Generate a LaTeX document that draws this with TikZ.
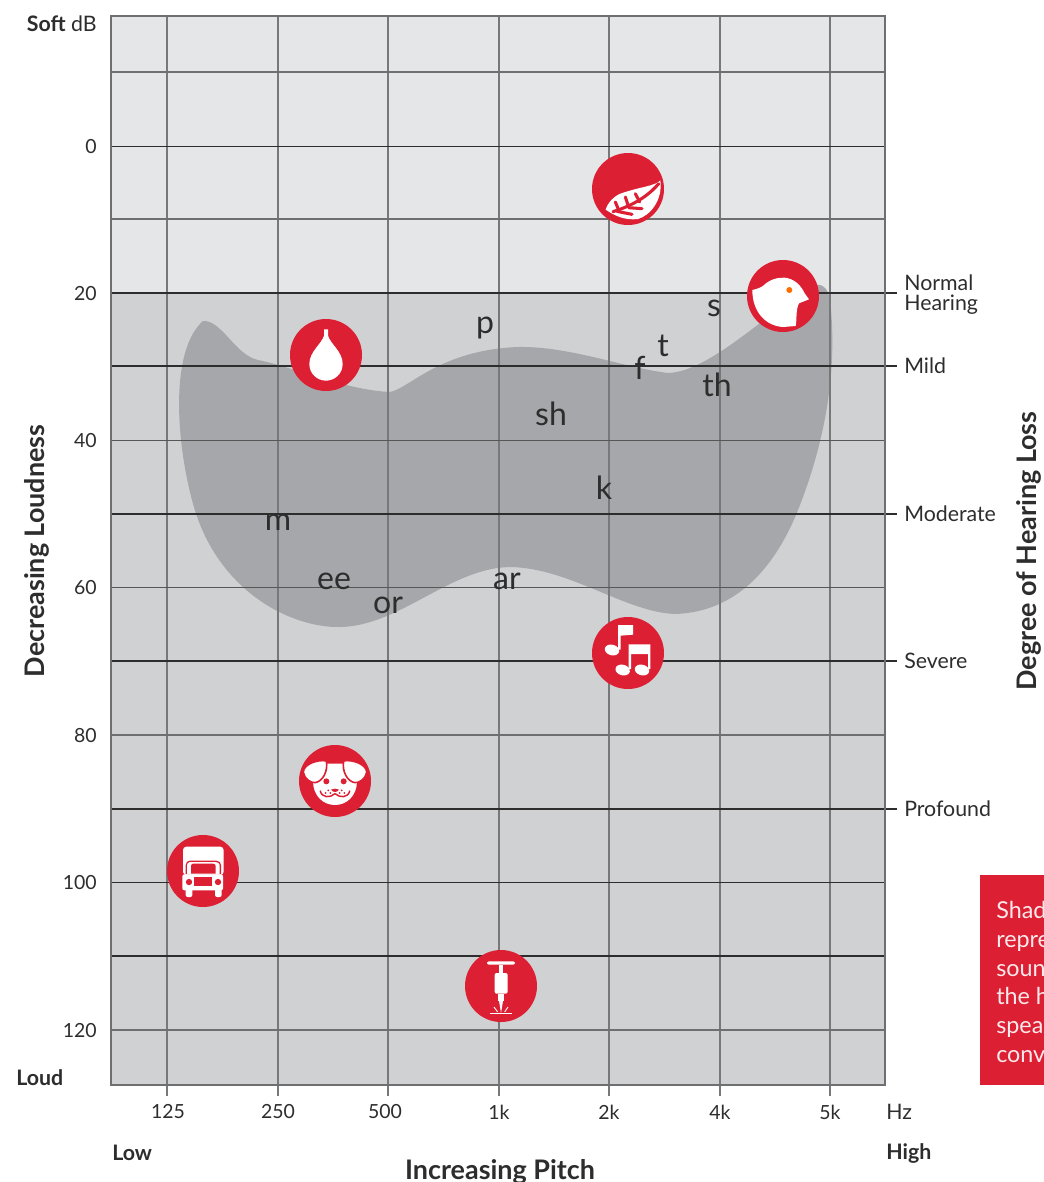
\documentclass[tikz,border=0pt]{standalone}
\usepackage{fontspec}
\setmainfont{Lato}
\definecolor{rd}{HTML}{DC1F33}
\definecolor{lite}{HTML}{E5E6E8}
\definecolor{mid}{HTML}{D0D1D3}
\definecolor{ban}{HTML}{A6A7AA}
\definecolor{ink}{HTML}{2E2D2E}
\definecolor{grd}{HTML}{77787A}
\definecolor{grh}{HTML}{6E6F71}
\tikzset{
  vline/.style={draw=grd,line width=1.05pt},
  hgray/.style={draw=grh,line width=.8pt},
  hthin/.style={draw=ink,line width=.65pt},
  hdark/.style={draw=ink,line width=1pt},
  lab/.style={text=ink,font=\fontsize{14.6}{16}\selectfont,inner sep=0pt},
  deg/.style={text=ink,font=\fontsize{16}{18}\selectfont,inner sep=0pt},
  ttl/.style={text=ink,font=\fontsize{20.2}{22}\selectfont\bfseries,inner sep=0pt},
  bld/.style={text=ink,font=\fontsize{16}{18}\selectfont\bfseries,inner sep=0pt},
  pho/.style={text=ink,font=\fontsize{24}{26}\selectfont,inner sep=0pt,anchor=base},
  disc/.style={circle,fill=rd,minimum size=54pt,inner sep=0pt},
  icon/.style={x=.25pt,y=-.25pt},
  wh/.style={fill=white,draw=none},
  rdf/.style={fill=rd,draw=none},
  rdl/.style={draw=rd,line cap=round},
  vein/.style={draw=rd,line cap=round,line width=2.3pt}
}
\begin{document}
\begin{tikzpicture}[x=.75pt,y=-.75pt]
\useasboundingbox (0,0) rectangle (1044,1182);
\fill[white] (0,0) rectangle (1044,1182);
% plot backgrounds
\fill[lite] (111,16) rectangle (885,293);
\fill[mid] (111,293) rectangle (885,1085);
% speech banana
\fill[ban] (203,321) .. controls (222,320) and (235,355) .. (258,360)
  .. controls (290,366) and (345,390) .. (390,392)
  .. controls (410,388) and (440,350) .. (518,347)
  .. controls (570,346) and (625,368) .. (668,373)
  .. controls (710,372) and (770,310) .. (812,286)
  .. controls (822,282) and (828,288) .. (830,300)
  .. controls (838,370) and (825,440) .. (800,505)
  .. controls (775,570) and (735,612) .. (675,614)
  .. controls (625,612) and (570,568) .. (510,567)
  .. controls (450,568) and (400,626) .. (340,627)
  .. controls (290,628) and (215,590) .. (192,500)
  .. controls (176,440) and (170,350) .. (203,321) -- cycle;
% vertical grid
\foreach \x in {167,278,388,499,609,720,830}
  \draw[vline] (\x,16) -- (\x,1096);
% horizontal grid
\foreach \y in {72,219,735,1030} \draw[hgray] (111,\y) -- (885,\y);
\foreach \y in {440,587} \draw[hthin,draw=ink!80] (111,\y) -- (885,\y);
\foreach \y in {146,882} \draw[hthin] (111,\y) -- (885,\y);
\foreach \y in {293,366,514,661,809} \draw[hdark] (111,\y) -- (897,\y);
\draw[hdark] (111,956) -- (885,956);
\draw[draw=grh,line width=1pt] (111,16) rectangle (885,1085);
% y axis labels
\node[lab,anchor=east] (y0) at (97,147) {0};
\node[lab,anchor=east] (y20) at (97,294) {20};
\node[lab,anchor=east] (y40) at (97,441) {40};
\node[lab,anchor=east] (y60) at (97,588) {60};
\node[lab,anchor=east] (y80) at (97,736) {80};
\node[lab,anchor=east] (y100) at (97,883) {100};
\node[lab,anchor=east] (y120) at (97,1031) {120};
\node[text=ink,inner sep=0pt,anchor=base east,font=\fontsize{16}{18}\selectfont] (soft) at (97,31) {\textbf{Soft} dB};
\node[bld,anchor=base west] (loud) at (16,1085) {Loud};
% x axis labels
\node[lab] (x125) at (168,1112) {125};
\node[lab] (x250) at (278,1112) {250};
\node[lab] (x500) at (385,1112) {500};
\node[lab] (x1k) at (499,1112) {1k};
\node[lab] (x2k) at (609,1112) {2k};
\node[lab] (x4k) at (720,1112) {4k};
\node[lab] (x5k) at (830,1112) {5k};
\node[deg,anchor=west] (hz) at (886,1112) {Hz};
\node[bld,anchor=west] (low) at (112,1153) {Low};
\node[bld,anchor=west] (high) at (886,1153) {High};
\node[ttl] (pitch) at (500,1172) {Increasing Pitch};
\node[ttl,rotate=90] (ldn) at (37,551) {Decreasing Loudness};
\node[ttl,rotate=90] (dhl) at (1029,551) {Degree of Hearing Loss};
% degree labels
\node[deg,anchor=base west] (norm) at (904,290) {Normal};
\node[deg,anchor=base west] (hear) at (904,310) {Hearing};
\node[deg,anchor=base west] (mild) at (904,373) {Mild};
\node[deg,anchor=base west] (mod) at (904,521) {Moderate};
\node[deg,anchor=base west] (sev) at (904,668) {Severe};
\node[deg,anchor=base west] (prof) at (904,816) {Profound};
% phonemes
\node[pho] (pp) at (485,333) {p};
\node[pho] (ps) at (714,316) {s};
\node[pho] (pt) at (663,356) {t};
\node[pho] (pf) at (640,379) {f};
\node[pho] (pth) at (717,396) {th};
\node[pho] (psh) at (551,425) {sh};
\node[pho] (pk) at (604,499) {k};
\node[pho] (pm) at (278,530) {m};
\node[pho] (pee) at (334,589) {ee};
\node[pho] (por) at (388,613) {or};
\node[pho] (par) at (507,589) {ar};
% red note
\fill[rd] (980,875) rectangle (1044,1085);
\begin{scope}
\clip (980,875) rectangle (1044,1085);
\foreach \n/\t/\y in {a/Shad/918,b/repre/947,c/soun/976,d/the h/1004,e/spea/1033,f/conv/1062}
  \node[text=white!90!rd,font=\fontsize{17.5}{20}\selectfont,inner sep=0pt,anchor=base west] (note\n) at (996,\y) {\t};
\end{scope}
% discs
\node[disc] (leaf) at (628,189) {};
\node[disc] (bird) at (783,296) {};
\node[disc] (drop) at (326,355) {};
\node[disc] (music) at (628,653) {};
\node[disc] (dog) at (335,781) {};
\node[disc] (truck) at (203,871) {};
\node[disc] (drill) at (501,986) {};
% leaf icon
\begin{scope}[shift={(leaf.center)},icon]
\fill[wh] (97,-26) .. controls (80,-8) and (40,-8) .. (-23,14)
  .. controls (-45,24) and (-60,40) .. (-67,62)
  .. controls (-40,80) and (-10,95) .. (30,90)
  .. controls (65,80) and (105,35) .. (97,-26) -- cycle;
\draw[vein] (92,-16) .. controls (70,10) and (30,45) .. (-45,68);
\draw[vein] (35,39) -- (22,14);
\draw[vein] (2,54) -- (-8,24);
\draw[vein] (-28,63) -- (-38,39);
\draw[vein] (2,56) -- (42,59);
\draw[vein] (-33,67) -- (12,76);
\end{scope}
% bird icon
\begin{scope}[shift={(bird.center)},icon]
\fill[wh] (-92,-18) .. controls (-75,-22) and (-65,-26) .. (-58,-32)
  .. controls (-40,-50) and (-15,-56) .. (5,-55)
  .. controls (35,-52) and (55,-30) .. (65,-8)
  -- (78,10) -- (48,22)
  .. controls (38,40) and (42,70) .. (38,90)
  -- (0,93) .. controls (-50,90) and (-92,50) .. (-92,-18) -- cycle;
\fill[orange!85!red] (19,-18) circle (9);
\end{scope}
% drop icon
\begin{scope}[shift={(drop.center)},icon]
\fill[wh] (-6,-77) -- (6,-77) -- (6,-58) .. controls (14,-32) and (50,-10) .. (50,27)
  .. controls (50,57) and (25,77) .. (0,77)
  .. controls (-25,77) and (-50,57) .. (-50,27)
  .. controls (-50,-10) and (-14,-32) .. (-6,-58) -- cycle;
\end{scope}
% music icon
\begin{scope}[shift={(music.center)},icon]
\fill[wh] (-30,-84) -- (15,-84) -- (15,-55) -- (-22,-52) -- (-22,-10) -- (-30,-10) -- cycle;
\fill[wh,rotate around={-15:(-48,-9)}] (-48,-9) ellipse (22 and 16);
\fill[wh] (2,-26) -- (67,-26) -- (67,48) -- (60,48) -- (60,3) -- (9,3) -- (9,48) -- (2,48) -- cycle;
\fill[wh,rotate around={-15:(-16,51)}] (-16,51) ellipse (22 and 16);
\fill[wh,rotate around={-15:(42,51)}] (42,51) ellipse (22 and 16);
\end{scope}
% dog icon
\begin{scope}[shift={(dog.center)},icon]
\fill[wh] (-36,-52) -- (36,-52) .. controls (45,-25) and (66,-20) .. (66,0)
  .. controls (66,45) and (35,72) .. (0,72)
  .. controls (-35,72) and (-66,45) .. (-66,0)
  .. controls (-66,-20) and (-45,-25) .. (-36,-52) -- cycle;
\fill[wh,draw=rd,line width=1.2pt] (-26,-60) .. controls (-50,-66) and (-96,-50) .. (-95,-26)
  .. controls (-92,-6) and (-72,6) .. (-60,5)
  .. controls (-38,2) and (-20,-28) .. (-26,-60) -- cycle;
\fill[wh,draw=rd,line width=1.2pt] (26,-60) .. controls (50,-66) and (96,-50) .. (95,-26)
  .. controls (92,-6) and (72,6) .. (60,5)
  .. controls (38,2) and (20,-28) .. (26,-60) -- cycle;
\fill[rdf] (-26,1) circle (9);
\fill[rdf] (26,1) circle (9);
\fill[rdf] (-12,26) .. controls (-5,22) and (5,22) .. (12,26) .. controls (8,35) and (-8,35) .. (-12,26) -- cycle;
\draw[rdl,line width=1.1pt] (-44,30) .. controls (-40,50) and (-15,52) .. (0,38)
  .. controls (15,52) and (40,50) .. (44,30);
\foreach \p in {(-20,28),(-28,36),(-14,36),(20,28),(28,36),(14,36)} \fill[rdf] \p circle (3);
\end{scope}
% truck icon
\begin{scope}[shift={(truck.center)},icon]
\fill[wh,rounded corners=2.5pt] (-60,-73) rectangle (62,12);
\fill[rdf] (-52,10) -- (-52,-18) .. controls (-52,-26) and (-46,-31) .. (-40,-31) -- (40,-31) .. controls (48,-31) and (54,-26) .. (54,-18) -- (54,10) -- cycle;
\fill[wh] (-48,10) -- (-48,-18) .. controls (-48,-23) and (-43,-27) .. (-38,-27) -- (38,-27) .. controls (44,-27) and (50,-23) .. (50,-18) -- (50,10) -- cycle;
\fill[rdf] (-36,8) -- (-36,-15) .. controls (-36,-19) and (-33,-22) .. (-30,-22) -- (30,-22) .. controls (35,-22) and (38,-19) .. (38,-15) -- (38,8) -- cycle;
\fill[wh,rounded corners=1.5pt] (-62,10) rectangle (60,58);
\fill[wh,rounded corners=1.5pt] (-52,50) rectangle (-32,78);
\fill[wh,rounded corners=1.5pt] (36,50) rectangle (56,78);
\fill[rdf] (-42,33) circle (9.5);
\fill[rdf] (45,33) circle (9.5);
\fill[rdf] (-27,18) rectangle (28,44);
\end{scope}
% drill icon
\begin{scope}[shift={(drill.center)},icon]
\fill[wh,rounded corners=1.5pt] (-42,-74) rectangle (42,-64);
\fill[wh] (-6,-64) rectangle (6,-40);
\fill[wh,rounded corners=1.5pt] (-19,-39) rectangle (20,23);
\fill[wh] (-9,23) rectangle (9,45);
\fill[wh] (-6,45) -- (6,45) -- (0,81) -- cycle;
\draw[white,line width=.7pt] (-34,83) -- (34,83);
\draw[white,line width=.7pt] (-21,63) -- (-10,78);
\draw[white,line width=.7pt] (21,63) -- (11,78);
\end{scope}
\end{tikzpicture}
\end{document}
